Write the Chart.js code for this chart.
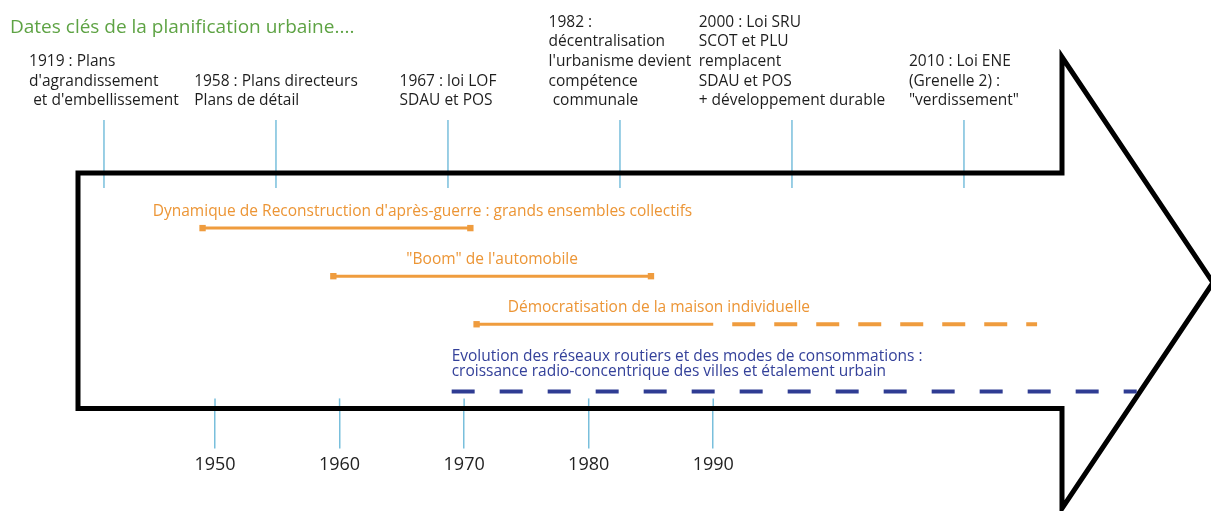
<!DOCTYPE html>
<html>
<head>
<meta charset="utf-8">
<script src="https://cdn.jsdelivr.net/npm/chart.js@4.4.1/dist/chart.umd.min.js"></script>
<style>
  html, body { margin: 0; padding: 0; background: #fff; }
  #wrap { width: 1211px; height: 511px; }
</style>
</head>
<body>
<div id="wrap"><canvas id="timeline"></canvas></div>
<script>
// ---- data ----
const title = "Dates clés de la planification urbaine....";
const axisYears = [1950, 1960, 1970, 1980, 1990];

const keyDates = ["1919", "1958", "1967", "1982", "2000", "2010"];
const keyTexts = [
    ["1919 : Plans", "d'agrandissement", " et d'embellissement"],
    ["1958 : Plans directeurs", "Plans de détail"],
    ["1967 : loi LOF", "SDAU et POS"],
    ["1982 :", "décentralisation", "l'urbanisme devient", "compétence", " communale"],
    ["2000 : Loi SRU", "SCOT et PLU", "remplacent", "SDAU et POS", "+ développement durable"],
    ["2010 : Loi ENE", "(Grenelle 2) :", "\"verdissement\""]
];

const phaseNames = [
    ["Dynamique de Reconstruction d'après-guerre : grands ensembles collectifs"],
    ["\"Boom\" de l'automobile"],
    ["Démocratisation de la maison individuelle"],
    ["Evolution des réseaux routiers et des modes de consommations :",
     "croissance radio-concentrique des villes et étalement urbain"]
];
const phaseStart    = [1949, 1959.5, 1971, 1969];
const phaseSolidEnd = [1970.5, 1985, 1990, 1969];   // after this: dashed (ongoing)
const phaseEnd      = [1970.5, 1985, 2016, 2024];

// ---- layout / style ----
const phaseLane   = [1, 2, 3, 4.4];
const phaseColor  = ["#ef9c3e", "#ef9c3e", "#ef9c3e", "#2f3c93"];
const phaseText   = ["#ec9535", "#ec9535", "#ec9535", "#34419a"];
const labelAnchor = [1945, null, 1973.5, 1969];     // null = centred on the bar
const labelGap    = [17, 17, 17, 20];
const tickBlue = "#79bfdc";
const FONT = "'Open Sans', sans-serif";

const datasets = [];
phaseStart.forEach((s, i) => {
    const solidEnd = phaseSolidEnd[i];
    const hasDash = phaseEnd[i] > solidEnd;
    if (solidEnd > s) {
        datasets.push({
            data: [{ x: s, y: phaseLane[i] }, { x: solidEnd, y: phaseLane[i] }],
            borderColor: phaseColor[i],
            borderWidth: 3,
            pointStyle: "rect",
            pointRadius: [4.5, hasDash ? 0 : 4.5],
            pointBackgroundColor: phaseColor[i],
            pointBorderWidth: 0,
            clip: false
        });
    }
    if (hasDash) {
        const startsWithGap = solidEnd > s;
        datasets.push({
            data: [{ x: solidEnd, y: phaseLane[i] }, { x: phaseEnd[i], y: phaseLane[i] }],
            borderColor: phaseColor[i],
            borderWidth: 4,
            borderDash: startsWithGap ? [23, 19] : [23, 25],
            borderDashOffset: startsWithGap ? 23 : 0,
            pointRadius: 0,
            clip: false
        });
    }
});

const timelinePlugin = {
    id: "timeline",
    beforeDraw(chart) {
        const ctx = chart.ctx;
        ctx.save();
        ctx.fillStyle = "#fff";
        ctx.fillRect(0, 0, chart.width, chart.height);
        ctx.restore();
    },
    beforeDatasetsDraw(chart) {
        const { ctx, chartArea: a, scales } = chart;
        ctx.save();
        // key-date ticks (top)
        ctx.strokeStyle = tickBlue;
        ctx.lineWidth = 1.5;
        keyDates.forEach((d, i) => {
            const x = scales.key.getPixelForValue(i);
            ctx.beginPath();
            ctx.moveTo(x, a.top - 53);
            ctx.lineTo(x, a.top + 15);
            ctx.stroke();
        });
        // inner part of the year ticks
        axisYears.forEach(y => {
            const x = scales.x.getPixelForValue(y);
            ctx.beginPath();
            ctx.moveTo(x, a.bottom - 10);
            ctx.lineTo(x, a.bottom);
            ctx.stroke();
        });
        // arrow outline
        const headTop = a.top - 116, headBottom = a.bottom + 100;
        ctx.strokeStyle = "#000";
        ctx.lineWidth = 5;
        ctx.lineJoin = "miter";
        ctx.beginPath();
        ctx.moveTo(a.left, a.top);
        ctx.lineTo(a.right, a.top);
        ctx.lineTo(a.right, headTop);
        ctx.lineTo(chart.width + 2, (headTop + headBottom) / 2);
        ctx.lineTo(a.right, headBottom);
        ctx.lineTo(a.right, a.bottom);
        ctx.lineTo(a.left, a.bottom);
        ctx.closePath();
        ctx.stroke();
        ctx.restore();
    },
    afterDatasetsDraw(chart) {
        const { ctx, chartArea: a, scales } = chart;
        ctx.save();
        ctx.textBaseline = "middle";
        // title
        ctx.fillStyle = "#5ea344";
        ctx.font = "19px " + FONT;
        ctx.textAlign = "left";
        ctx.fillText(title, 10, 28);
        // key-date blocks
        ctx.fillStyle = "#1e1e1e";
        ctx.font = "15.5px " + FONT;
        keyTexts.forEach((lines, i) => {
            const cx = scales.key.getPixelForValue(i);
            const w = Math.max(...lines.map(l => ctx.measureText(l).width));
            lines.forEach((l, j) => {
                ctx.fillText(l, cx - w / 2, a.top - 72 - (lines.length - 1 - j) * 19.7);
            });
        });
        // phase labels
        ctx.font = "15.5px " + FONT;
        phaseNames.forEach((lines, i) => {
            const yBar = scales.y.getPixelForValue(phaseLane[i]);
            let x, align;
            if (labelAnchor[i] === null) {
                x = (scales.x.getPixelForValue(phaseStart[i]) + scales.x.getPixelForValue(phaseSolidEnd[i])) / 2;
                align = "center";
            } else {
                x = scales.x.getPixelForValue(labelAnchor[i]);
                align = "left";
            }
            ctx.textAlign = align;
            ctx.fillStyle = phaseText[i];
            lines.forEach((l, j) => {
                ctx.fillText(l, x, yBar - labelGap[i] - (lines.length - 1 - j) * 15);
            });
        });
        ctx.restore();
    }
};

new Chart(document.getElementById("timeline"), {
    type: "line",
    data: { datasets: datasets },
    options: {
        responsive: true,
        maintainAspectRatio: false,
        animation: false,
        layout: { padding: { left: 78, top: 173, right: 149, bottom: 29 } },
        plugins: { legend: { display: false }, tooltip: { enabled: false } },
        scales: {
            x: {
                type: "linear",
                min: 1939,
                max: 2018,
                afterBuildTicks: scale => { scale.ticks = axisYears.map(v => ({ value: v })); },
                border: { display: false },
                grid: { drawOnChartArea: false, drawTicks: true, tickLength: 40, color: tickBlue, lineWidth: 1.5 },
                ticks: {
                    callback: v => String(v),
                    color: "#222",
                    font: { family: "Open Sans", size: 18 },
                    padding: 6,
                    maxRotation: 0,
                    autoSkip: false
                }
            },
            key: {
                type: "linear",
                axis: "x",
                display: false,
                min: -0.151,
                max: 5.57
            },
            y: {
                type: "linear",
                display: false,
                reverse: true,
                min: -0.146,
                max: 4.75
            }
        }
    },
    plugins: [timelinePlugin]
});
</script>
</body>
</html>
